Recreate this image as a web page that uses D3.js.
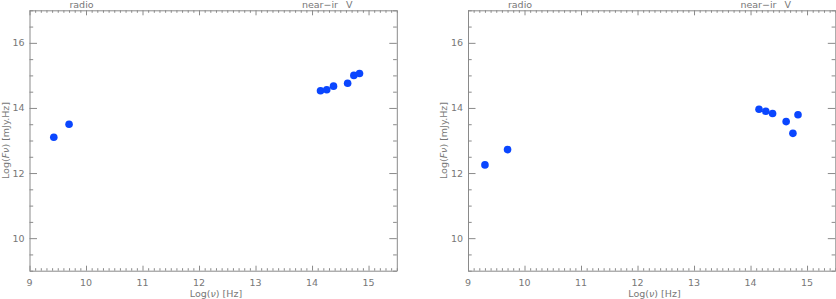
<!DOCTYPE html>
<html><head><meta charset="utf-8">
<script src="https://cdn.jsdelivr.net/npm/d3@7"></script>
<style>body{margin:0;background:#fff}svg{display:block}text{font-family:"DejaVu Sans",sans-serif;fill:#777}</style>
</head><body><svg id="c" width="836" height="299"></svg>
<script>
// Data
const radioXA = [9.43, 9.70];
const radioYA = [13.10, 13.50];
const nirXA = [14.15, 14.26, 14.38, 14.63, 14.74, 14.84];
const nirYA = [14.53, 14.56, 14.67, 14.76, 15.00, 15.06];
const radioXB = [9.30, 9.70];
const radioYB = [12.25, 12.72];
const nirXB = [14.15, 14.27, 14.39, 14.63, 14.75, 14.84];
const nirYB = [13.96, 13.90, 13.83, 13.58, 13.22, 13.79];
const xTickLabels = [9, 10, 11, 12, 13, 14, 15];
const yTickLabels = [10, 12, 14, 16];
const bandLabels = ["radio", "near\u2212ir", "V"];
const bandPos = [9.92, 14.14, 14.66];

const svg = d3.select("#c");
const axisCol = "#8a8a8a";

function panel(x0, x1, rx, ry, nx, ny) {
  const top = 10.3, bottom = 270.7;
  const x = d3.scaleLinear().domain([9, 15.5]).range([x0, x1]);
  const y = d3.scaleLinear().domain([9, 17]).range([bottom, top]);
  const g = svg.append("g");
  const isInt = d => Math.abs(d - Math.round(d)) < 1e-6;
  // bottom / top axes
  const xb = d3.axisBottom(x).tickValues(d3.range(9, 15.51, 0.1)).tickSizeOuter(0).tickFormat("");
  const xbG = g.append("g").attr("transform", `translate(0,${bottom})`).call(xb);
  xbG.selectAll(".tick line").attr("y2", d => isInt(d) ? -5 : -2.5);
  const xt = d3.axisTop(x).tickValues(d3.range(9, 15.51, 0.1)).tickSizeOuter(0).tickFormat("");
  const xtG = g.append("g").attr("transform", `translate(0,${top})`).call(xt);
  xtG.selectAll(".tick line").attr("y2", d => isInt(d) ? 5 : 2.5);
  // y axes
  const yl = d3.axisLeft(y).tickValues(d3.range(9, 17.01, 0.5)).tickSizeOuter(0).tickFormat("");
  const ylG = g.append("g").attr("transform", `translate(${x0},0)`).call(yl);
  ylG.selectAll(".tick line").attr("x2", d => (d % 2 === 0) ? 7.5 : 3.7);
  const yr = d3.axisRight(y).tickValues(d3.range(9, 17.01, 0.5)).tickSizeOuter(0).tickFormat("");
  const yrG = g.append("g").attr("transform", `translate(${x1},0)`).call(yr);
  yrG.selectAll(".tick line").attr("x2", d => (d % 2 === 0) ? -7.5 : -3.7);
  g.selectAll(".domain").attr("stroke", axisCol);
  g.selectAll(".tick line").attr("stroke", axisCol);
  // tick labels
  g.selectAll(".xl").data(xTickLabels).join("text")
    .attr("x", d => x(d)).attr("y", bottom + 15).attr("text-anchor", "middle")
    .attr("font-size", 9.5).text(d => d);
  g.selectAll(".yl").data(yTickLabels).join("text")
    .attr("x", x0 - 5).attr("y", d => y(d) + 3.5).attr("text-anchor", "end")
    .attr("font-size", 9.5).text(d => d);
  // titles
  const xtTitle = g.append("text").attr("x", x(12.3)).attr("y", 297).attr("text-anchor", "middle").attr("font-size", 9.5);
  xtTitle.append("tspan").text("Log(");
  xtTitle.append("tspan").attr("font-style", "italic").text("\u03bd");
  xtTitle.append("tspan").text(") [Hz]");
  const yt = g.append("text").attr("transform", `translate(${x0 - 21},${y(13)}) rotate(-90)`).attr("text-anchor", "middle").attr("font-size", 9.5);
  yt.append("tspan").text("Log(");
  yt.append("tspan").attr("font-style", "italic").text("F\u03bd");
  yt.append("tspan").text(") [mJy.Hz]");
  // band labels
  g.selectAll(".bl").data(bandLabels).join("text")
    .attr("x", (d, i) => x(bandPos[i])).attr("y", 7.5).attr("text-anchor", "middle")
    .attr("font-size", 9.5).text(d => d);
  // points
  const pts = rx.map((v, i) => [v, ry[i]]).concat(nx.map((v, i) => [v, ny[i]]));
  g.selectAll("circle").data(pts).join("circle")
    .attr("cx", d => x(d[0])).attr("cy", d => y(d[1])).attr("r", 3.8).attr("fill", "#0a46ff");
}
panel(29.5, 396.8, radioXA, radioYA, nirXA, nirYA);
panel(468, 835.3, radioXB, radioYB, nirXB, nirYB);
</script></body></html>
